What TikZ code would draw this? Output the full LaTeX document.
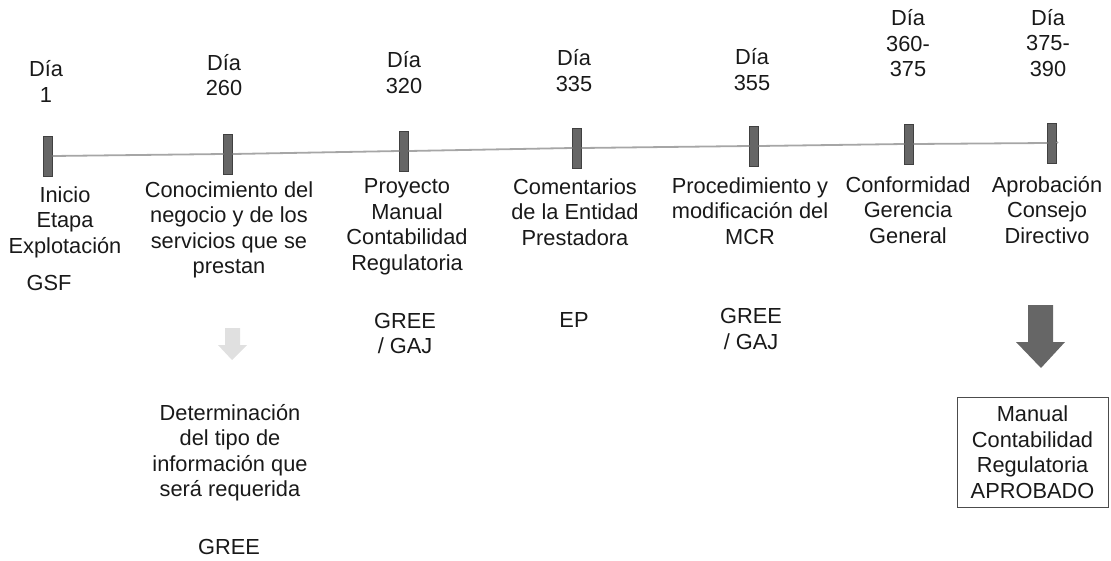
\documentclass[tikz,border=0pt]{standalone}
\usepackage{fontspec}
\setmainfont{Liberation Sans}
\begin{document}
\begin{tikzpicture}[x=1pt,y=-1pt,
  tickbox/.style={draw=black!75, fill=black!60, minimum width=9pt, minimum height=40pt, inner sep=0pt},
  lbl/.style={align=center, inner sep=0pt, font=\fontsize{21.8}{25.5}\selectfont, text=black!90},
  tline/.style={draw=black!35, line width=1.8pt},
  resultbox/.style={draw=black!70, line width=0.7pt, minimum width=151pt, minimum height=110pt}]
\useasboundingbox (0,0) rectangle (1111,560);
% ticks
\node[tickbox] (t1) at (48,156) {};
\node[tickbox] (t2) at (228,154) {};
\node[tickbox] (t3) at (404,151) {};
\node[tickbox] (t4) at (577,148) {};
\node[tickbox] (t5) at (754,146) {};
\node[tickbox] (t6) at (909,144) {};
\node[tickbox] (t7) at (1052,143) {};
\coordinate (tend) at (1058,142);
\draw[tline] (t1.east) -- (t2.west) (t2.east) -- (t3.west) (t3.east) -- (t4.west)
  (t4.east) -- (t5.west) (t5.east) -- (t6.west) (t6.east) -- (t7.west) (t7.east) -- (tend);
% top labels
\node[lbl] (d1) at (46,81.5) {Día\\1};
\node[lbl] (d2) at (224,75) {Día\\260};
\node[lbl] (d3) at (404,72.5) {Día\\320};
\node[lbl] (d4) at (574,70.5) {Día\\335};
\node[lbl] (d5) at (752,69.5) {Día\\355};
\node[lbl] (d6) at (908,43.5) {Día\\360-\\375};
\node[lbl] (d7) at (1048,43) {Día\\375-\\390};
% bottom labels
\node[lbl] (e1) at (65,222) {Inicio\\Etapa\\Explotación};
\node[lbl] (e2) at (229,230) {Conocimiento del\\negocio y de los\\servicios que se\\prestan};
\node[lbl] (e3) at (407,227) {Proyecto\\Manual\\Contabilidad\\Regulatoria};
\node[lbl] (e4) at (575,212) {Comentarios\\de la Entidad\\Prestadora};
\node[lbl] (e5) at (750,211) {Procedimiento y\\modificación del\\MCR};
\node[lbl] (e6) at (908,210) {Conformidad\\Gerencia\\General};
\node[lbl] (e7) at (1047,210) {Aprobación\\Consejo\\Directivo};
% responsibles
\node[lbl] (r1) at (49,283) {GSF};
\node[lbl] (r3) at (405,333.5) {GREE\\/ GAJ};
\node[lbl] (r4) at (574,320) {EP};
\node[lbl] (r5) at (751,329) {GREE\\/ GAJ};
\node[lbl] (det) at (230,452.5) {Determinación\\del tipo de\\información que\\será requerida};
\node[lbl] (r2) at (229,547) {GREE};
% faint arrow
\fill[black!12] (225,328) -- (240,328) -- (240,345) -- (247,345) -- (232,360) -- (218,345) -- (225,345) -- cycle;
% big arrow
\fill[black!60] (1028,305) -- (1053,305) -- (1053,342) -- (1065,342) -- (1041,368) -- (1016,342) -- (1028,342) -- cycle;
% result box
\node[lbl, resultbox] (box) at (1032.5,452) {Manual\\Contabilidad\\Regulatoria\\APROBADO};
\end{tikzpicture}
\end{document}
